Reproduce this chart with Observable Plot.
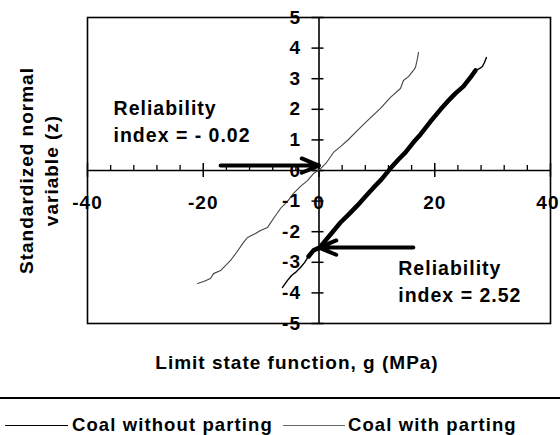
<!DOCTYPE html>
<html><head><meta charset="utf-8">
<script src="https://cdn.jsdelivr.net/npm/d3@7"></script>
<script src="https://cdn.jsdelivr.net/npm/@observablehq/plot@0.6"></script>
<style>
html,body{margin:0;padding:0;background:#fff;overflow:hidden;}
body{width:560px;height:435px;position:relative;font-family:"Liberation Sans",Arial,sans-serif;font-weight:bold;}
#chart{position:absolute;left:0;top:0;}
#legend{position:absolute;left:0;top:397px;width:560px;height:36px;border-top:2px solid #000;}
.item{position:absolute;top:18px;height:16px;line-height:16px;font-size:18.5px;letter-spacing:1.1px;white-space:nowrap;}
</style></head>
<body><div id="chart"></div><div id="legend"></div>
<script>
// Series: "Coal without parting" (thick black) and "Coal with parting" (thin grey)
const seriesNames = ["Coal without parting", "Coal with parting"];
const gWithout = [-6.30,-5.44,-4.75,-4.06,-3.20,-2.50,-1.81,-0.95,0.09,1.99,3.71,5.27,6.65,8.03,9.41,10.80,12.35,13.73,14.94,16.32,17.53,19.26,20.98,22.19,23.58,24.96,26.17,27.03,27.72,28.24,28.58,28.93];
const zWithout = [-3.82,-3.59,-3.43,-3.33,-3.17,-3.01,-2.81,-2.61,-2.52,-2.09,-1.70,-1.41,-1.14,-0.85,-0.56,-0.29,0.07,0.36,0.59,0.92,1.18,1.60,1.99,2.25,2.52,2.75,3.04,3.27,3.33,3.40,3.53,3.69];
const gWith = [-20.98,-19.94,-18.74,-18.22,-17.01,-15.29,-14.25,-13.04,-12.35,-10.97,-10.10,-8.89,-7.86,-6.65,-5.44,-4.40,-3.20,-1.99,-0.95,0.09,1.30,2.50,3.71,4.92,6.65,8.38,10.62,12.35,14.07,14.59,15.46,16.32,16.67,17.01,17.19];
const zWith = [-3.69,-3.63,-3.53,-3.37,-3.27,-2.94,-2.68,-2.35,-2.19,-2.06,-1.96,-1.86,-1.57,-1.24,-1.01,-0.75,-0.52,-0.33,-0.10,0.03,0.26,0.59,0.78,0.98,1.31,1.63,2.03,2.39,2.68,2.94,3.07,3.27,3.37,3.66,3.86];

// Axis ticks
const xTickLabels = [-40,-20,0,20,40];
const xMinorTicks = [-36,-32,-28,-24,-16,-12,-8,-4,4,8,12,16,24,28,32,36];
const yTickLabels = [-5,-4,-3,-2,-1,0,1,2,3,4,5];

// Annotations (reliability index arrows and labels)
const noteTexts = ["Reliability\nindex = - 0.02", "Reliability\nindex = 2.52"];
const noteG = [-35.5, 13.7];
const noteZ = [1.65, -3.58];
const arrowFromG = [-17.0, 16.3];
const arrowToG = [0, 0];
const arrowZ = [0.16, -2.52];

const xTitle = "Limit state function, g (MPa)";
const yTitle = "Standardized normal\nvariable (z)";

const without = gWithout.map((g,i)=>({g, z:zWithout[i]}));
const withP = gWith.map((g,i)=>({g, z:zWith[i]}));
const notes = noteTexts.map((t,i)=>({t, g:noteG[i], z:noteZ[i]}));
const arrows = arrowFromG.map((g,i)=>({g1:g, g2:arrowToG[i], z:arrowZ[i]}));
const xLabelsInner = xTickLabels.slice(0, -1);
const xLabelLast = xTickLabels.slice(-1);

const plot = Plot.plot({
  width: 560, height: 392,
  marginLeft: 87, marginRight: 10, marginTop: 17, marginBottom: 69,
  x: {domain: [-40, 40], axis: null},
  y: {domain: [-5, 5], axis: null},
  style: {fontFamily: '"Liberation Sans", Arial, sans-serif', fontWeight: "bold", fontSize: "19px", letterSpacing: "1px", background: "white", color: "#000", overflow: "visible"},
  marks: [
    Plot.frame({stroke: "#000", strokeWidth: 1.6}),
    Plot.ruleY([0], {stroke: "#000", strokeWidth: 1.6}),
    Plot.ruleX([0], {stroke: "#000", strokeWidth: 1.6}),
    Plot.ruleX(xMinorTicks, {x: d => d, y1: 0, y2: 0, insetTop: -5, insetBottom: 0, stroke: "#000", strokeWidth: 1.3}),
    Plot.ruleX(xTickLabels, {x: d => d, y1: 0, y2: 0, insetTop: -7, insetBottom: -7, stroke: "#000", strokeWidth: 1.5}),
    Plot.ruleY(yTickLabels, {y: d => d, x1: 0, x2: 0, insetLeft: -7, insetRight: -5, stroke: "#000", strokeWidth: 1.5}),
    Plot.line(withP, {x: "g", y: "z", stroke: "#444", strokeWidth: 1.1}),
    Plot.line(without, {x: "g", y: "z", stroke: "#000", strokeWidth: 1.4}),
    Plot.line(without.filter(d => d.z >= -2.9 && d.z <= 3.28), {x: "g", y: "z", stroke: "#000", strokeWidth: 4.5}),
    Plot.arrow(arrows, {x1: "g1", x2: "g2", y1: "z", y2: "z", stroke: "#000", strokeWidth: 4, headLength: 7, headAngle: 45}),
    Plot.text(xLabelsInner, {x: d => d, y: 0, dy: 32, text: d => String(d)}),
    Plot.text(xLabelLast, {x: d => d, y: 0, dy: 32, dx: 9, textAnchor: "end", text: d => String(d)}),
    Plot.text(yTickLabels, {x: 0, y: d => d, dx: -18, textAnchor: "end", text: d => String(d)}),
    Plot.text(notes, {x: "g", y: "z", text: "t", textAnchor: "start", lineAnchor: "middle", lineHeight: 1.4, fontSize: 19.5}),
    Plot.text([xTitle], {frameAnchor: "bottom", dx: -22, dy: 39, lineAnchor: "middle", text: d => d}),
    Plot.text([yTitle], {frameAnchor: "left", dx: -50.5, rotate: -90, textAnchor: "middle", lineHeight: 1.32, lineAnchor: "middle", text: d => d})
  ]
});
document.getElementById("chart").appendChild(plot);

// Legend
const legend = document.getElementById("legend");
const legendSpec = [
  {sx: 5, sw: 63, tx: 72, stroke: "1.5px solid #000"},
  {sx: 283, sw: 62, tx: 348, stroke: "1.5px solid #666"}
];
seriesNames.forEach((name, i) => {
  const s = legendSpec[i];
  const sample = document.createElement("div");
  sample.style.cssText = `position:absolute;left:${s.sx}px;top:26px;width:${s.sw}px;height:0;border-top:${s.stroke};`;
  legend.appendChild(sample);
  const t = document.createElement("div");
  t.className = "item";
  t.style.left = s.tx + "px";
  t.textContent = name;
  legend.appendChild(t);
});
</script>
</body></html>
